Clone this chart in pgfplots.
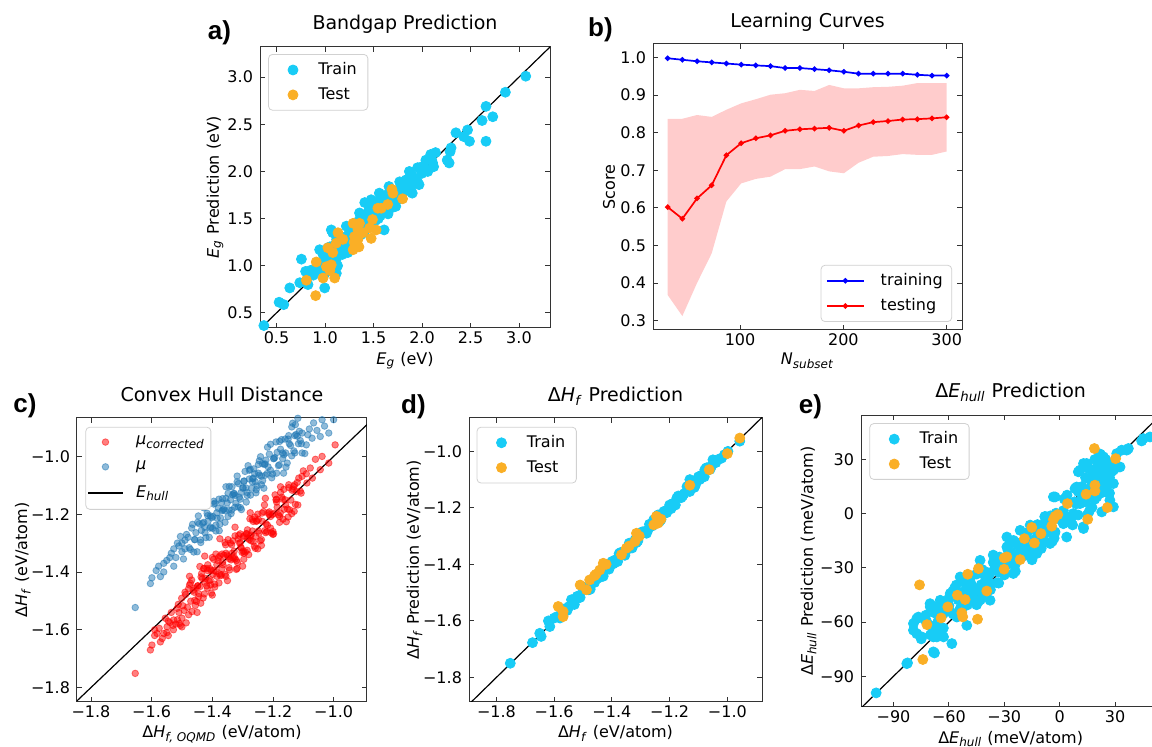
\documentclass[border=0pt]{standalone}
\usepackage{fontspec}
\setmainfont{DejaVu Sans}
\newfontfamily\labfont{Liberation Sans}
\usepackage{pgfplots}
\pgfplotsset{compat=1.18}
\definecolor{cyanm}{RGB}{24,204,246}
\definecolor{orangem}{RGB}{250,175,38}
\definecolor{tabblue}{RGB}{31,119,180}
\newcommand{\fs}{\fontsize{8}{9.6}\selectfont}
\newcommand{\Hf}{Δ\textit{H}\textsubscript{\textit{f}}}
\newcommand{\Eh}{Δ\textit{E}\textsubscript{\textit{hull}}}
\tikzset{
  sc/.style={only marks, mark=*, mark size=2.5pt, mark options={draw=#1, fill=#1}},
  sca/.style={only marks, mark=*, mark size=1.65pt, mark options={draw=#1, fill=#1, opacity=0.5}},
}
\pgfplotsset{
  myax/.style={scale only axis, axis line style={black!80,line width=0.5pt},
    tick align=inside, tick pos=both, major tick length=2.6pt,
    tick style={black!80,line width=0.45pt},
    ticklabel style={font=\fs}, label style={font=\fs},
    xticklabel style={yshift=1.6pt},
    title style={font=\fontsize{9.5}{11}\selectfont, anchor=base, yshift=-6pt},
    xlabel style={anchor=base}, ylabel style={anchor=center},
    legend cell align=left,
    legend image code/.code={\path (0cm,0cm) (0.6cm,0cm);
      \draw[mark repeat=2,mark phase=2,##1] plot coordinates {(0cm,0cm) (0.3cm,0cm) (0.6cm,0cm)};},
    legend style={draw=black!18, rounded corners=2pt, fill=white, font=\fs,
      inner xsep=0.5pt, inner ysep=2pt, row sep=1pt},
    clip=true},
  scleg/.style={legend style={inner xsep=3.5pt, /tikz/every odd column/.append style={column sep=2pt}}},
}
\begin{document}
\begin{tikzpicture}
\useasboundingbox (0pt,0pt) rectangle (576pt,373.5pt);
\begin{scope}
\clip (0pt,0pt) rectangle (576pt,373.5pt);
% ---------------- a) ----------------
\begin{axis}[myax, scleg, at={(130pt,209.5pt)}, anchor=south west, width=145pt, height=140.5pt,
  xmin=0.33, xmax=3.32, ymin=0.34, ymax=3.32,
  xtick={0.5,1,1.5,2,2.5,3}, xticklabels={0.5,1.0,1.5,2.0,2.5,3.0},
  ytick={0.5,1,1.5,2,2.5,3}, yticklabels={0.5,1.0,1.5,2.0,2.5,3.0},
  title={Bandgap Prediction}, title style={at={(axis description cs:0.5,1.063)}},
  xlabel={\textit{E}\textsubscript{\textit{g}} (eV)}, xlabel style={at={(axis description cs:0.5,-0.1317)}},
  ylabel={\textit{E}\textsubscript{\textit{g}} Prediction (eV)}, ylabel style={at={(axis description cs:-0.155,0.5)}},
  legend style={at={(0.028,0.975)}, anchor=north west}]
\addplot[black, line width=0.6pt, forget plot] coordinates {(0.3,0.3) (3.4,3.4)};
\addplot[sc=cyanm] coordinates {
(0.37,0.366)(0.527,0.613)(0.575,0.588)(0.637,0.765)(0.74,0.82)(0.757,1.07)(0.80,0.94)(0.825,0.80)
(0.91,0.99)(0.945,1.17)(0.997,0.765)(1.03,1.19)(1.08,1.35)(1.065,1.38)(1.117,0.92)(1.15,1.21)
(1.22,1.42)(1.236,1.14)(1.29,1.35)(1.356,1.56)(1.41,1.67)(1.42,1.42)(1.476,1.70)(1.49,1.49)
(1.527,1.56)(1.56,1.77)(1.58,1.56)(1.61,1.38)(1.63,1.70)(1.66,1.84)(1.70,1.70)(1.73,1.63)
(1.77,1.89)(1.80,1.77)(1.835,1.91)(1.87,2.00)(1.90,1.77)(1.92,1.93)(1.955,2.04)(1.97,1.86)
(2.02,2.00)(2.04,2.12)(2.06,2.00)(2.09,2.18)(2.11,2.09)(2.28,2.09)(2.30,2.25)(2.35,2.41)
(2.43,2.37)(2.49,2.32)(2.47,2.44)(2.62,2.54)(2.66,2.69)(2.66,2.32)(2.73,2.58)(2.86,2.84)
(3.07,3.01)(2.26,2.12)(2.29,2.21)
(0.95,1.02)(1.0,1.05)(1.02,0.98)(1.05,1.10)(1.08,1.05)(1.1,1.15)(1.12,1.08)(1.15,1.18)
(1.18,1.12)(1.2,1.25)(1.22,1.2)(1.25,1.28)(1.27,1.22)(1.3,1.32)(1.32,1.27)(1.35,1.38)
(1.37,1.33)(1.4,1.45)(1.42,1.4)(1.45,1.5)(1.47,1.44)(1.5,1.55)(1.52,1.48)(1.55,1.6)
(1.57,1.53)(1.6,1.65)(1.62,1.58)(1.65,1.68)(1.67,1.62)(1.7,1.75)(1.72,1.68)(1.75,1.8)
(1.78,1.74)(1.8,1.85)(1.83,1.8)(1.85,1.88)(1.88,1.84)(1.9,1.95)(1.95,1.9)(2.0,2.05)
(2.05,2.02)(2.1,2.12)(1.5,1.62)(1.45,1.58)(1.6,1.72)(1.55,1.5)(1.4,1.35)(1.3,1.22)
(1.65,1.55)(1.7,1.62)(1.25,1.35)(1.35,1.48)(1.2,1.3)(1.1,1.22)(1.05,1.2)(0.92,0.95)
(0.88,0.9)(0.85,0.95)(1.0,0.92)(1.13,1.0)(1.58,1.63)(1.63,1.75)(1.75,1.7)(1.85,1.8)
(1.48,1.65)(1.54,1.68)(1.44,1.52)(1.38,1.5)(1.33,1.42)(1.28,1.4)(1.18,1.3)(1.12,1.28)
(0.98,1.12)(1.92,1.87)(2.0,1.98)(2.14,2.2)(2.12,2.05)
(1.43,1.47)(1.53,1.52)(1.62,1.66)(1.68,1.7)(1.36,1.42)(1.26,1.3)(1.16,1.2)(1.46,1.6)};
\addlegendentry{Train}
\addplot[sc=orangem] coordinates {
(0.808,0.846)(0.904,0.683)(0.91,1.04)(0.98,0.87)(1.03,1.19)(1.014,0.99)(1.065,1.01)(1.08,1.14)
(1.10,0.87)(1.117,1.24)(1.134,1.35)(1.185,1.28)(1.29,1.17)(1.305,1.31)(1.29,1.45)(1.356,1.45)
(1.34,1.28)(1.34,1.38)(1.39,1.35)(1.46,1.40)(1.476,1.29)(1.527,1.38)(1.49,1.49)(1.545,1.61)
(1.58,1.61)(1.647,1.65)(1.69,1.81)(1.70,1.77)(1.80,1.71)(1.05,0.95)(1.3,1.25)(1.35,1.2)};
\addlegendentry{Test}
\end{axis}
% ---------------- b) ----------------
\begin{axis}[myax, at={(326.5pt,208.5pt)}, anchor=south west, width=154.5pt, height=143pt,
  xmin=15.8, xmax=314.8, ymin=0.275, ymax=1.036,
  xtick={100,200,300}, xticklabels={100,200,300},
  ytick={0.3,0.4,0.5,0.6,0.7,0.8,0.9,1.0}, yticklabels={0.3,0.4,0.5,0.6,0.7,0.8,0.9,1.0},
  title={Learning Curves}, title style={at={(axis description cs:0.5,1.058)}},
  xlabel={\textit{N}\textsubscript{\textit{subset}}}, xlabel style={at={(axis description cs:0.5,-0.122)}},
  ylabel={Score}, ylabel style={at={(axis description cs:-0.142,0.5)}},
  legend image code/.code={\path (0cm,0cm) (0.65cm,0cm);
      \draw[mark repeat=2,mark phase=2,#1] plot coordinates {(0cm,0cm) (0.325cm,0cm) (0.65cm,0cm)};},
  legend style={at={(0.968,0.028)}, anchor=south east, inner xsep=2.5pt,
    /tikz/every odd column/.append style={column sep=6pt}}]
\addplot[draw=none, fill=red!20, forget plot] coordinates {
(30,0.837)(44.2,0.837)(58.4,0.847)(72.6,0.842)(86.8,0.861)(101.1,0.878)(115.3,0.889)(129.5,0.901)
(143.7,0.905)(157.9,0.914)(172.1,0.911)(186.3,0.927)(200.5,0.918)(214.7,0.918)(228.9,0.921)
(243.2,0.922)(257.4,0.925)(271.6,0.932)(285.8,0.932)(300,0.932)
(300,0.750)(285.8,0.741)(271.6,0.741)(257.4,0.743)(243.2,0.738)(228.9,0.736)(214.7,0.720)
(200.5,0.692)(186.3,0.697)(172.1,0.710)(157.9,0.703)(143.7,0.703)(129.5,0.683)(115.3,0.677)
(101.1,0.665)(86.8,0.617)(72.6,0.479)(58.4,0.400)(44.2,0.312)(30,0.368)} -- cycle;
\addplot[blue, line width=0.85pt, mark=*, mark size=0.9pt] coordinates {
(30,0.998)(44.2,0.994)(58.4,0.990)(72.6,0.987)(86.8,0.984)(101.1,0.981)(115.3,0.979)(129.5,0.977)
(143.7,0.972)(157.9,0.972)(172.1,0.969)(186.3,0.966)(200.5,0.962)(214.7,0.957)(228.9,0.957)
(243.2,0.957)(257.4,0.957)(271.6,0.954)(285.8,0.952)(300,0.952)};
\addlegendentry{training}
\addplot[red, line width=0.85pt, mark=*, mark size=0.9pt] coordinates {
(30,0.602)(44.2,0.571)(58.4,0.625)(72.6,0.660)(86.8,0.740)(101.1,0.772)(115.3,0.785)(129.5,0.793)
(143.7,0.805)(157.9,0.809)(172.1,0.811)(186.3,0.813)(200.5,0.805)(214.7,0.819)(228.9,0.828)
(243.2,0.831)(257.4,0.835)(271.6,0.836)(285.8,0.838)(300,0.841)};
\addlegendentry{testing}
\end{axis}
% ---------------- c) ----------------
\begin{axis}[myax, at={(38.5pt,22.5pt)}, anchor=south west, width=145pt, height=142pt,
  xmin=-1.846, xmax=-0.89, ymin=-1.85, ymax=-0.867,
  xtick={-1.8,-1.6,-1.4,-1.2,-1.0}, xticklabels={−1.8,−1.6,−1.4,−1.2,−1.0},
  ytick={-1.8,-1.6,-1.4,-1.2,-1.0}, yticklabels={−1.8,−1.6,−1.4,−1.2,−1.0},
  title={Convex Hull Distance}, title style={at={(axis description cs:0.5,1.059)}},
  xlabel={Δ\textit{H}\textsubscript{\textit{f, OQMD}} (eV/atom)}, xlabel style={at={(axis description cs:0.5,-0.1256)}},
  ylabel={\Hf{} (eV/atom)}, ylabel style={at={(axis description cs:-0.187,0.5)}},
  legend style={at={(0.029,0.969)}, anchor=north west, inner xsep=1pt, inner ysep=2.5pt, row sep=2.5pt,
    /tikz/every odd column/.append style={column sep=4.5pt}}]
\addplot[sca=red] coordinates {
(-1.654,-1.751)(-1.604,-1.670)(-1.599,-1.653)(-1.571,-1.642)(-1.582,-1.613)(-1.560,-1.613)
(-1.549,-1.590)(-1.527,-1.566)(-1.540,-1.575)(-1.555,-1.560)(-1.535,-1.540)(-1.545,-1.620)(-1.528,-1.600)
(-1.590,-1.620)(-1.575,-1.595)(-1.565,-1.630)(-1.550,-1.610)(-1.545,-1.570)(-1.530,-1.585)
(-1.515,-1.565)(-1.510,-1.540)(-1.500,-1.560)(-1.590,-1.600)
(-1.520,-1.580)(-1.512,-1.512)(-1.505,-1.585)(-1.497,-1.517)(-1.490,-1.470)(-1.482,-1.522)
(-1.475,-1.445)(-1.467,-1.537)(-1.460,-1.470)(-1.452,-1.502)(-1.445,-1.485)(-1.437,-1.417)
(-1.430,-1.490)(-1.422,-1.422)(-1.415,-1.375)(-1.407,-1.427)(-1.400,-1.350)(-1.392,-1.442)
(-1.385,-1.375)(-1.377,-1.407)(-1.370,-1.410)(-1.362,-1.342)(-1.355,-1.415)(-1.347,-1.347)
(-1.340,-1.300)(-1.332,-1.352)(-1.325,-1.275)(-1.317,-1.367)(-1.310,-1.300)(-1.302,-1.332)
(-1.295,-1.335)(-1.287,-1.267)(-1.280,-1.340)(-1.272,-1.272)(-1.265,-1.225)(-1.257,-1.277)
(-1.250,-1.200)(-1.242,-1.292)(-1.235,-1.225)(-1.227,-1.257)(-1.220,-1.260)(-1.212,-1.192)
(-1.205,-1.265)(-1.197,-1.197)(-1.190,-1.150)(-1.182,-1.202)(-1.175,-1.125)(-1.167,-1.217)
(-1.160,-1.150)(-1.152,-1.182)(-1.145,-1.185)(-1.137,-1.117)(-1.130,-1.190)(-1.122,-1.122)
(-1.115,-1.075)(-1.107,-1.127)(-1.100,-1.050)
(-1.516,-1.526)(-1.508,-1.578)(-1.501,-1.491)(-1.493,-1.533)(-1.486,-1.576)(-1.478,-1.458)
(-1.471,-1.501)(-1.463,-1.463)(-1.456,-1.516)(-1.448,-1.448)(-1.441,-1.381)(-1.433,-1.423)
(-1.426,-1.476)(-1.418,-1.388)(-1.411,-1.431)(-1.403,-1.473)(-1.396,-1.356)(-1.388,-1.398)
(-1.381,-1.361)(-1.373,-1.413)(-1.366,-1.366)(-1.358,-1.298)(-1.351,-1.341)(-1.343,-1.393)
(-1.336,-1.306)(-1.328,-1.348)(-1.321,-1.391)(-1.313,-1.273)(-1.306,-1.316)(-1.298,-1.278)
(-1.291,-1.331)(-1.283,-1.283)(-1.276,-1.216)(-1.268,-1.258)(-1.261,-1.311)(-1.253,-1.223)
(-1.246,-1.266)(-1.238,-1.308)(-1.231,-1.191)(-1.223,-1.233)(-1.216,-1.196)(-1.208,-1.248)
(-1.201,-1.201)(-1.193,-1.133)(-1.186,-1.176)(-1.178,-1.228)(-1.171,-1.141)(-1.163,-1.183)
(-1.156,-1.226)(-1.148,-1.108)(-1.141,-1.151)(-1.133,-1.113)(-1.126,-1.166)
(-1.455,-1.455)(-1.445,-1.475)(-1.435,-1.405)(-1.425,-1.435)(-1.415,-1.395)(-1.405,-1.445)
(-1.395,-1.395)(-1.385,-1.415)(-1.375,-1.345)(-1.365,-1.375)(-1.355,-1.335)(-1.345,-1.385)
(-1.335,-1.335)(-1.325,-1.355)(-1.315,-1.285)(-1.305,-1.315)(-1.295,-1.275)(-1.285,-1.325)
(-1.275,-1.275)(-1.265,-1.295)(-1.255,-1.225)
(-1.500,-1.590)(-1.475,-1.415)(-1.450,-1.540)(-1.425,-1.345)(-1.400,-1.480)(-1.375,-1.285)
(-1.350,-1.430)(-1.325,-1.245)(-1.300,-1.380)(-1.275,-1.195)(-1.250,-1.320)(-1.225,-1.145)
(-1.200,-1.270)(-1.175,-1.105)(-1.150,-1.210)
(-1.488,-1.478)(-1.478,-1.548)(-1.468,-1.428)(-1.458,-1.498)(-1.448,-1.448)(-1.438,-1.508)
(-1.428,-1.388)(-1.418,-1.448)(-1.408,-1.388)(-1.398,-1.408)(-1.388,-1.338)(-1.378,-1.438)
(-1.368,-1.338)(-1.358,-1.408)(-1.348,-1.288)(-1.338,-1.358)(-1.328,-1.328)(-1.318,-1.388)
(-1.308,-1.268)(-1.298,-1.328)(-1.288,-1.268)(-1.278,-1.288)(-1.268,-1.218)(-1.258,-1.318)
(-1.248,-1.218)(-1.238,-1.288)(-1.228,-1.168)(-1.218,-1.238)(-1.208,-1.208)(-1.198,-1.268)
(-1.188,-1.148)(-1.178,-1.208)(-1.168,-1.148)(-1.158,-1.168)(-1.148,-1.098)(-1.138,-1.198)
(-1.128,-1.098)(-1.118,-1.168)
(-1.440,-1.450)(-1.428,-1.388)(-1.416,-1.456)(-1.404,-1.394)(-1.392,-1.452)(-1.380,-1.350)
(-1.368,-1.388)(-1.356,-1.306)(-1.344,-1.354)(-1.332,-1.292)(-1.320,-1.360)(-1.308,-1.298)
(-1.296,-1.356)(-1.284,-1.254)(-1.272,-1.292)(-1.260,-1.210)(-1.248,-1.258)(-1.236,-1.196)
(-1.224,-1.264)(-1.212,-1.202)(-1.200,-1.260)(-1.188,-1.158)(-1.176,-1.196)(-1.164,-1.114)
(-0.995,-0.960)(-1.038,-1.000)(-1.016,-1.023)(-1.044,-1.046)(-1.077,-1.040)(-1.104,-1.069)
(-1.110,-1.120)(-1.088,-1.092)(-1.132,-1.104)(-1.060,-1.010)(-1.090,-1.060)(-1.070,-1.075)
(-1.120,-1.090)(-1.472,-1.439)};
\addlegendentry{\textit{μ}\textsubscript{\textit{corrected}}}
\addplot[sca=tabblue] coordinates {
(-1.654,-1.523)(-1.604,-1.440)(-1.599,-1.420)(-1.577,-1.380)(-1.571,-1.416)(-1.560,-1.370)
(-1.527,-1.380)(-1.527,-1.320)(-1.540,-1.350)(-1.515,-1.300)(-1.505,-1.277)(-1.500,-1.330)
(-1.495,-1.355)(-1.490,-1.290)
(-1.585,-1.395)(-1.560,-1.400)(-1.550,-1.360)(-1.535,-1.335)(-1.520,-1.350)(-1.510,-1.310)
(-1.500,-1.300)(-1.490,-1.320)(-1.485,-1.270)
(-1.480,-1.280)(-1.472,-1.322)(-1.465,-1.235)(-1.458,-1.288)(-1.450,-1.330)(-1.443,-1.233)
(-1.436,-1.256)(-1.428,-1.178)(-1.421,-1.281)(-1.414,-1.224)(-1.406,-1.206)(-1.399,-1.249)
(-1.392,-1.162)(-1.384,-1.214)(-1.377,-1.257)(-1.370,-1.160)(-1.362,-1.182)(-1.355,-1.105)
(-1.348,-1.208)(-1.340,-1.150)(-1.333,-1.133)(-1.326,-1.176)(-1.318,-1.088)(-1.311,-1.141)
(-1.304,-1.184)(-1.296,-1.086)(-1.289,-1.109)(-1.282,-1.032)(-1.274,-1.134)(-1.267,-1.077)
(-1.260,-1.060)(-1.252,-1.102)(-1.245,-1.015)(-1.238,-1.068)(-1.230,-1.110)(-1.223,-1.013)
(-1.216,-1.036)(-1.208,-0.958)(-1.201,-1.061)(-1.194,-1.004)(-1.186,-0.986)(-1.179,-1.029)
(-1.172,-0.942)(-1.164,-0.994)(-1.157,-1.037)(-1.150,-0.940)(-1.142,-0.962)(-1.135,-0.885)
(-1.128,-0.988)(-1.120,-0.930)(-1.113,-0.913)(-1.106,-0.956)
(-1.476,-1.316)(-1.468,-1.248)(-1.461,-1.331)(-1.454,-1.264)(-1.446,-1.206)(-1.439,-1.289)
(-1.432,-1.232)(-1.424,-1.264)(-1.417,-1.197)(-1.410,-1.280)(-1.402,-1.212)(-1.395,-1.155)
(-1.388,-1.238)(-1.380,-1.180)(-1.373,-1.213)(-1.366,-1.146)(-1.358,-1.228)(-1.351,-1.161)
(-1.344,-1.104)(-1.336,-1.186)(-1.329,-1.129)(-1.322,-1.162)(-1.314,-1.094)(-1.307,-1.177)
(-1.300,-1.110)(-1.292,-1.052)(-1.285,-1.135)(-1.278,-1.078)(-1.270,-1.110)(-1.263,-1.043)
(-1.256,-1.126)(-1.248,-1.058)(-1.241,-1.001)(-1.234,-1.084)(-1.226,-1.026)(-1.219,-1.059)
(-1.212,-0.992)(-1.204,-1.074)(-1.197,-1.007)(-1.190,-0.950)(-1.182,-1.032)(-1.175,-0.975)
(-1.168,-1.008)(-1.160,-0.940)(-1.153,-1.023)(-1.146,-0.956)(-1.138,-0.898)(-1.131,-0.981)
(-1.124,-0.924)(-1.116,-0.956)
(-1.425,-1.245)(-1.415,-1.205)(-1.405,-1.245)(-1.395,-1.165)(-1.385,-1.195)(-1.375,-1.235)
(-1.365,-1.185)(-1.355,-1.145)(-1.345,-1.185)(-1.335,-1.105)(-1.325,-1.135)(-1.315,-1.175)
(-1.305,-1.125)(-1.295,-1.085)(-1.285,-1.125)(-1.275,-1.045)(-1.265,-1.075)(-1.255,-1.115)
(-1.245,-1.065)(-1.235,-1.025)(-1.225,-1.065)
(-1.458,-1.288)(-1.448,-1.228)(-1.438,-1.298)(-1.428,-1.228)(-1.418,-1.168)(-1.408,-1.248)
(-1.398,-1.208)(-1.388,-1.258)(-1.378,-1.148)(-1.368,-1.188)(-1.358,-1.188)(-1.348,-1.128)
(-1.338,-1.198)(-1.328,-1.128)(-1.318,-1.068)(-1.308,-1.148)(-1.298,-1.108)(-1.288,-1.158)
(-1.278,-1.048)(-1.268,-1.088)(-1.258,-1.088)(-1.248,-1.028)(-1.238,-1.098)(-1.228,-1.028)
(-1.218,-0.968)(-1.208,-1.048)(-1.198,-1.008)(-1.188,-1.058)(-1.178,-0.948)(-1.168,-0.988)
(-1.158,-0.988)(-1.148,-0.928)(-1.138,-0.998)(-1.128,-0.928)(-1.118,-0.868)
(-1.126,-0.890)(-1.104,-0.919)(-1.066,-0.884)(-1.038,-0.873)(-1.044,-0.931)(-1.016,-0.919)
(-1.000,-0.873)(-1.071,-0.937)(-1.104,-0.988)(-1.090,-0.960)(-1.080,-0.905)(-1.055,-0.910)
(-1.030,-0.895)(-1.010,-0.860)(-1.085,-0.925)(-1.110,-0.945)(-1.095,-0.990)(-1.165,-1.058)};
\addlegendentry{\textit{μ}}
\addplot[black, line width=0.6pt] coordinates {(-1.9,-1.9) (-0.8,-0.8)};
\addlegendentry{\textit{E}\textsubscript{\textit{hull}}}
\end{axis}
% ---------------- d) ----------------
\begin{axis}[myax, scleg, at={(234.5pt,22.5pt)}, anchor=south west, width=146.5pt, height=142pt,
  xmin=-1.895, xmax=-0.88, ymin=-1.887, ymax=-0.882,
  xtick={-1.8,-1.6,-1.4,-1.2,-1.0}, xticklabels={−1.8,−1.6,−1.4,−1.2,−1.0},
  ytick={-1.8,-1.6,-1.4,-1.2,-1.0}, yticklabels={−1.8,−1.6,−1.4,−1.2,−1.0},
  title={\Hf{} Prediction}, title style={at={(axis description cs:0.5,1.059)}},
  xlabel={\Hf{} (eV/atom)}, xlabel style={at={(axis description cs:0.5,-0.1256)}},
  ylabel={\Hf{} Prediction (eV/atom)}, ylabel style={at={(axis description cs:-0.186,0.5)}},
  legend style={at={(0.026,0.969)}, anchor=north west}]
\addplot[black, line width=0.6pt, forget plot] coordinates {(-1.95,-1.95) (-0.8,-0.8)};
\addplot[sc=cyanm] coordinates {
(-1.752,-1.750)(-1.675,-1.677)(-1.650,-1.644)(-1.645,-1.655)(-1.615,-1.620)(-1.600,-1.590)(-1.620,-1.600)
(-1.590,-1.585)(-1.580,-1.590)(-1.570,-1.558)(-1.560,-1.564)(-1.550,-1.550)(-1.540,-1.525)
(-1.530,-1.542)(-1.520,-1.513)(-1.510,-1.517)(-1.500,-1.490)(-1.490,-1.485)(-1.480,-1.490)
(-1.470,-1.458)(-1.460,-1.464)(-1.450,-1.450)(-1.440,-1.425)(-1.430,-1.442)(-1.420,-1.413)
(-1.410,-1.417)(-1.400,-1.390)(-1.390,-1.385)(-1.380,-1.390)(-1.370,-1.358)(-1.360,-1.364)
(-1.350,-1.350)(-1.340,-1.325)(-1.330,-1.342)(-1.320,-1.313)(-1.310,-1.317)(-1.300,-1.290)
(-1.290,-1.285)(-1.280,-1.290)(-1.270,-1.258)(-1.260,-1.264)(-1.250,-1.250)(-1.240,-1.225)
(-1.230,-1.242)(-1.220,-1.213)(-1.210,-1.217)(-1.200,-1.190)(-1.190,-1.185)(-1.180,-1.190)
(-1.170,-1.158)(-1.160,-1.164)(-1.150,-1.150)(-1.140,-1.125)(-1.130,-1.142)(-1.120,-1.113)
(-1.110,-1.117)(-1.100,-1.090)(-1.090,-1.085)(-1.080,-1.090)(-1.070,-1.058)(-1.060,-1.064)
(-1.040,-1.040)(-1.030,-1.028)(-1.010,-1.012)
(-1.555,-1.563)(-1.535,-1.525)(-1.515,-1.518)(-1.495,-1.482)(-1.475,-1.488)(-1.455,-1.451)
(-1.435,-1.443)(-1.415,-1.405)(-1.395,-1.398)(-1.375,-1.362)(-1.355,-1.368)(-1.335,-1.331)
(-1.315,-1.323)(-1.295,-1.285)(-1.275,-1.278)(-1.255,-1.242)(-1.235,-1.248)(-1.215,-1.211)
(-1.195,-1.203)(-1.175,-1.165)(-1.155,-1.158)(-1.135,-1.122)(-1.115,-1.128)
(-1.130,-1.100)(-1.096,-1.100)(-1.113,-1.124)(-1.078,-1.065)(-1.055,-1.053)(-1.050,-1.030)
(-1.020,-1.024)(-0.998,-1.000)(-0.957,-0.964)(-1.073,-1.059)};
\addlegendentry{Train}
\addplot[sc=orangem] coordinates {
(-0.957,-0.953)(-1.000,-1.008)(-1.063,-1.065)(-1.130,-1.120)(-1.246,-1.230)(-1.240,-1.254)
(-1.255,-1.260)(-1.315,-1.290)(-1.320,-1.319)(-1.305,-1.300)(-1.350,-1.343)(-1.367,-1.366)
(-1.430,-1.396)(-1.442,-1.420)(-1.420,-1.400)(-1.460,-1.440)(-1.477,-1.455)(-1.510,-1.473)
(-1.488,-1.490)(-1.586,-1.549)(-1.569,-1.567)(-1.569,-1.585)(-1.230,-1.240)(-1.340,-1.335)
(-1.455,-1.435)};
\addlegendentry{Test}
\end{axis}
% ---------------- e) ----------------
\begin{axis}[myax, scleg, at={(430.5pt,20pt)}, anchor=south west, width=149.65pt, height=145.85pt,
  xmin=-107.6, xmax=54.5, ymin=-107, ymax=54.5,
  xtick={-90,-60,-30,0,30}, xticklabels={−90,−60,−30,0,30},
  ytick={-90,-60,-30,0,30}, yticklabels={−90,−60,−30,0,30},
  title={\Eh{} Prediction}, title style={at={(axis description cs:0.5,1.061)}},
  xlabel={\Eh{} (meV/atom)}, xlabel style={at={(axis description cs:0.5,-0.124)}},
  ylabel={\Eh{} Prediction (meV/atom)}, ylabel style={at={(axis description cs:-0.175,0.5)}},
  legend style={at={(0.028,0.973)}, anchor=north west}]
\addplot[black, line width=0.6pt, forget plot] coordinates {(-110,-110) (60,60)};
\addplot[sc=cyanm] coordinates {
(-99.4,-99.2)(-82.8,-83.0)(-82.4,-82.6)(-67.8,-77.1)(-66.5,-68.2)(-58.4,-71.9)(-77.4,-66.4)
(-79.2,-60.8)(-77.4,-58.1)(-74.7,-68.2)(-70.2,-49.8)(-63.0,-49.8)(-68.4,-76.5)(-62.9,-68.2)
(-68.4,-68.2)(-79.2,-64.5)(-76.5,-57.2)(-70.1,-51.6)(-64.7,-47.9)(-55.7,-57.2)(-50.3,-61.8)
(-59.3,-44.2)(-53.9,-35.0)(-50.3,-40.5)(-43.1,-25.8)(-39.5,-35.0)(-37.7,-47.9)(-32.3,-25.8)
(-28.6,-18.4)(-25.1,-33.1)(-28.6,-12.9)(-21.4,-9.2)(-17.8,-20.2)(-12.4,-22.0)(-10.6,-9.2)
(-7.0,-1.8)(-3.4,9.3)(-5.2,-16.5)(2.0,-5.5)(3.8,-12.9)(7.4,0.1)(11.0,5.6)(12.8,-7.3)(9.2,14.8)
(11.0,24.1)(14.6,27.8)(18.2,19.0)(21.8,29.6)(25.5,14.8)(29.1,24.1)(29.1,16.7)(32.7,25.9)
(30.9,33.3)(36.3,35.2)(44.4,40.3)(48.9,42.5)(20.1,9.3)(27.2,7.5)(22.8,1.0)(29.1,3.8)
(45.3,41.6)(37.2,36.1)(33.6,35.2)(31.8,25.9)(23.7,31.5)(12.9,27.8)(10.1,23.2)(8.3,13.9)
(12.9,-8.2)(-2.5,9.3)
(-72,-59.8)(-70,-67.1)(-68,-51.4)(-66,-59.8)(-64,-65.1)(-62,-49.5)(-60,-52.8)(-58,-55.1)
(-56,-39.5)(-54,-54.8)(-52,-43.2)(-50,-50.5)(-48,-34.8)(-46,-43.2)(-44,-48.5)(-42,-32.9)
(-40,-36.2)(-38,-38.5)(-36,-22.9)(-34,-38.2)(-32,-26.6)(-30,-33.9)(-28,-18.2)(-26,-26.6)
(-24,-31.9)(-22,-16.3)(-20,-19.6)(-18,-21.9)(-16,-6.3)(-14,-21.6)(-12,-10.0)(-10,-17.3)
(-8,-1.6)(-6,-10.0)(-4,-15.3)(-2,0.3)(0,-3.0)(2,-5.3)(4,10.3)(6,-5.0)(8,6.6)(10,-0.7)
(12,15.0)(14,6.6)(16,1.3)(18,16.9)(20,13.6)(22,11.3)(24,26.9)(26,11.6)(28,23.2)
(-69,-63.3)(-66,-51.8)(-63,-63.3)(-60,-50.8)(-57,-41.3)(-54,-52.8)(-51,-44.3)(-48,-38.8)
(-45,-50.4)(-42,-30.9)(-39,-38.4)(-36,-26.9)(-33,-38.4)(-30,-25.9)(-27,-16.4)(-24,-27.9)
(-21,-19.4)(-18,-13.9)(-15,-25.5)(-12,-6.0)(-9,-13.5)(-6,-2.0)(-3,-13.5)(0,-1.0)(3,8.5)
(6,-3.0)(9,5.5)(12,11.0)(15,-0.6)(18,18.9)(21,11.4)(24,22.9)(27,11.4)
(-45,-42)(-42,-45)(-40,-40)(-47,-47)(-38,-33)(-35,-30)(-50,-45)(-53,-48)(20,25)(22,20)
(24,18)(18,22)(26,28)(23,30)(21,27)(25,15)(19,8)(-5,-8)(-8,-5)(-25,-22)(-22,-25)(-28,-28)(-18,-15)
(-75,-69.3)(-72.5,-56.2)(-70,-62.1)(-67.5,-55.0)(-65,-65.0)(-62.5,-52.9)(-60,-46.8)(-57.5,-55.7)
(-55,-47.7)(-52.5,-37.6)(-50,-47.5)(-47.5,-46.4)(-45,-33.4)(-42.5,-39.3)(-40,-32.2)(-37.5,-42.1)
(-35,-30.1)(-32.5,-24.0)(-30,-32.9)(-27.5,-24.8)(-25,-14.8)(-22.5,-24.7)(-20,-23.6)(-17.5,-10.5)
(-15,-16.5)(-12.5,-9.4)(-10,-19.3)(-7.5,-7.2)(-5,-1.2)(-2.5,-10.1)(0,-2.0)(2.5,8.1)(5,-1.9)
(7.5,-0.8)(10,12.3)(12.5,6.4)(15,13.5)(17.5,3.5)(20,15.6)(22.5,21.7)(25,12.75)
(-73,-58.6)(-68,-62.4)(-63,-55.3)(-58,-43.1)(-53,-53.0)(-48,-39.8)(-43,-47.7)(-38,-33.5)
(-33,-32.4)(-28,-20.2)(-23,-17.1)(-18,-20.9)(-13,-13.8)(-8,-1.6)(-3,-11.5)(2,1.7)(7,-6.2)
(12,8.0)(17,9.1)(22,21.3)(27,24.4)
(16,25)(19,30)(22,33)(25,30)(28,28)(17,18)(24,24)(27,20)(14,20)(20,22)};
\addlegendentry{Train}
\addplot[sc=orangem] coordinates {
(-75.9,-39.4)(-71.9,-61.4)(-74.1,-80.7)(-64.2,-57.7)(-60.6,-51.6)(-55.4,-45.1)(-51.2,-47.5)
(-53.0,-54.9)(-52.5,-57.1)(-44.5,-58.4)(-49.8,-33.5)(-44.0,-30.4)(-39.5,-42.8)(-30.1,-30.7)
(-28.6,-23.9)(-30.0,-24.5)(-21.4,-25.4)(-19.1,-13.8)(-13.7,-16.2)(-15.1,-7.6)(-10.1,-11.0)
(-4.3,-6.9)(-3.4,-3.2)(-2.5,-1.5)(-1.0,-0.5)(4.2,5.6)(14.3,10.8)(19.1,15.8)(19.1,12.6)
(15.2,-3.1)(25.8,3.4)(18.8,36.1)(30.3,30.5)};
\addlegendentry{Test}
\end{axis}
% panel labels
\node[font=\labfont\bfseries\fontsize{13}{15}\selectfont] at (109.75pt,357pt) {a)};
\node[font=\labfont\bfseries\fontsize{13}{15}\selectfont] at (300.25pt,358.5pt) {b)};
\node[font=\labfont\bfseries\fontsize{13}{15}\selectfont] at (12.5pt,170.5pt) {c)};
\node[font=\labfont\bfseries\fontsize{13}{15}\selectfont] at (206.75pt,170pt) {d)};
\node[font=\labfont\bfseries\fontsize{13}{15}\selectfont] at (405.25pt,170.25pt) {e)};
\end{scope}
\end{tikzpicture}
\end{document}
